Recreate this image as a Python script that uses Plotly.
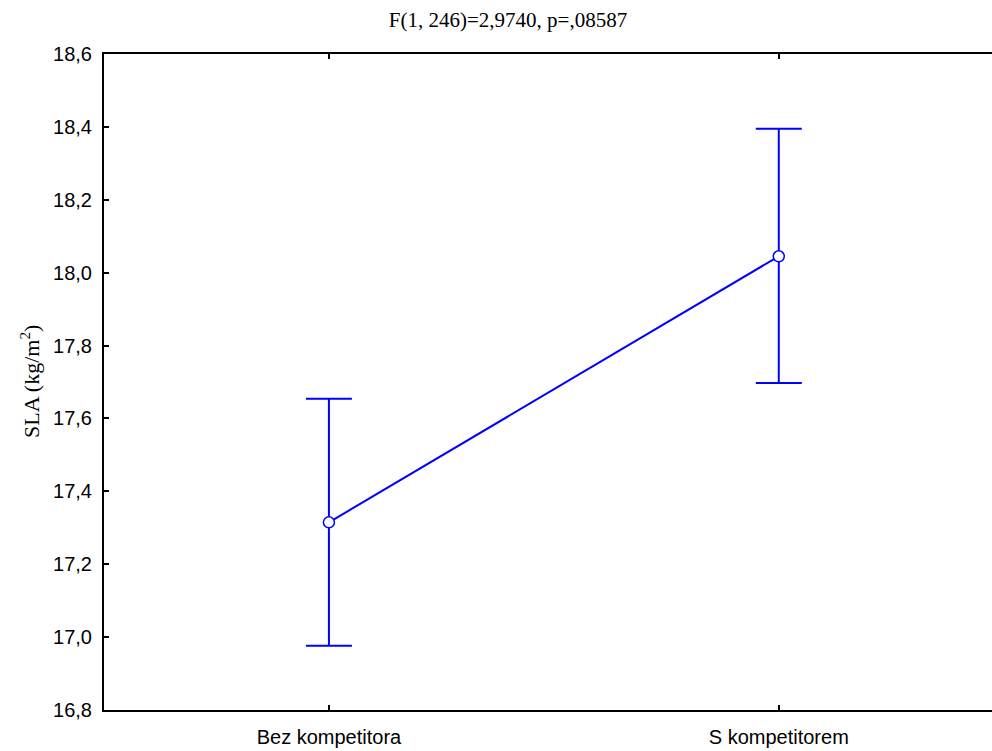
import plotly.graph_objects as go

categories = ["Bez kompetitora", "S kompetitorem"]
means = [17.315, 18.045]
ci_plus = [0.339, 0.350]
ci_minus = [0.339, 0.348]
y_ticks = [16.8, 17.0, 17.2, 17.4, 17.6, 17.8, 18.0, 18.2, 18.4, 18.6]

BLUE = "#0000FF"

fig = go.Figure()
fig.add_trace(go.Scatter(
    x=categories, y=means, mode="lines+markers",
    line=dict(color=BLUE, width=2),
    marker=dict(symbol="circle", size=11, color="white", line=dict(color=BLUE, width=1.5)),
    error_y=dict(type="data", symmetric=False, array=ci_plus, arrayminus=ci_minus,
                 color=BLUE, thickness=2, width=23),
    showlegend=False,
))

axis_common = dict(showline=True, linecolor="black", linewidth=2,
                   ticks="inside", ticklen=5, tickwidth=2, tickcolor="black",
                   showgrid=False, zeroline=False)

fig.update_layout(
    template="none",
    width=992, height=751,
    margin=dict(l=104, r=0, t=54, b=41),
    paper_bgcolor="white", plot_bgcolor="white",
    separators=", ",
    title=dict(text="F(1, 246)=2,9740, p=,08587",
               font=dict(family="Liberation Serif", size=21, color="black"),
               x=508/992, xanchor="center", xref="container",
               y=1 - 20/751, yanchor="middle", yref="container"),
    xaxis=dict(type="category", range=[-0.5, 1.474], mirror="ticks",
               ticklabelstandoff=8,
               tickfont=dict(family="Liberation Sans", size=20, color="black"),
               **axis_common),
    yaxis=dict(range=[16.8, 18.6], tickvals=y_ticks, tickformat=".1f", mirror=False,
               ticklabelstandoff=6,
               tickfont=dict(family="Liberation Sans", size=20, color="black"),
               **axis_common),
    annotations=[dict(text="SLA (kg/m<sup>2</sup>)", xref="paper", yref="paper",
                      x=(30 - 104) / 888, y=0.5, xanchor="center", yanchor="middle",
                      textangle=-90, showarrow=False,
                      font=dict(family="Liberation Serif", size=22, color="black"))],
)

fig.write_html("out.html")
